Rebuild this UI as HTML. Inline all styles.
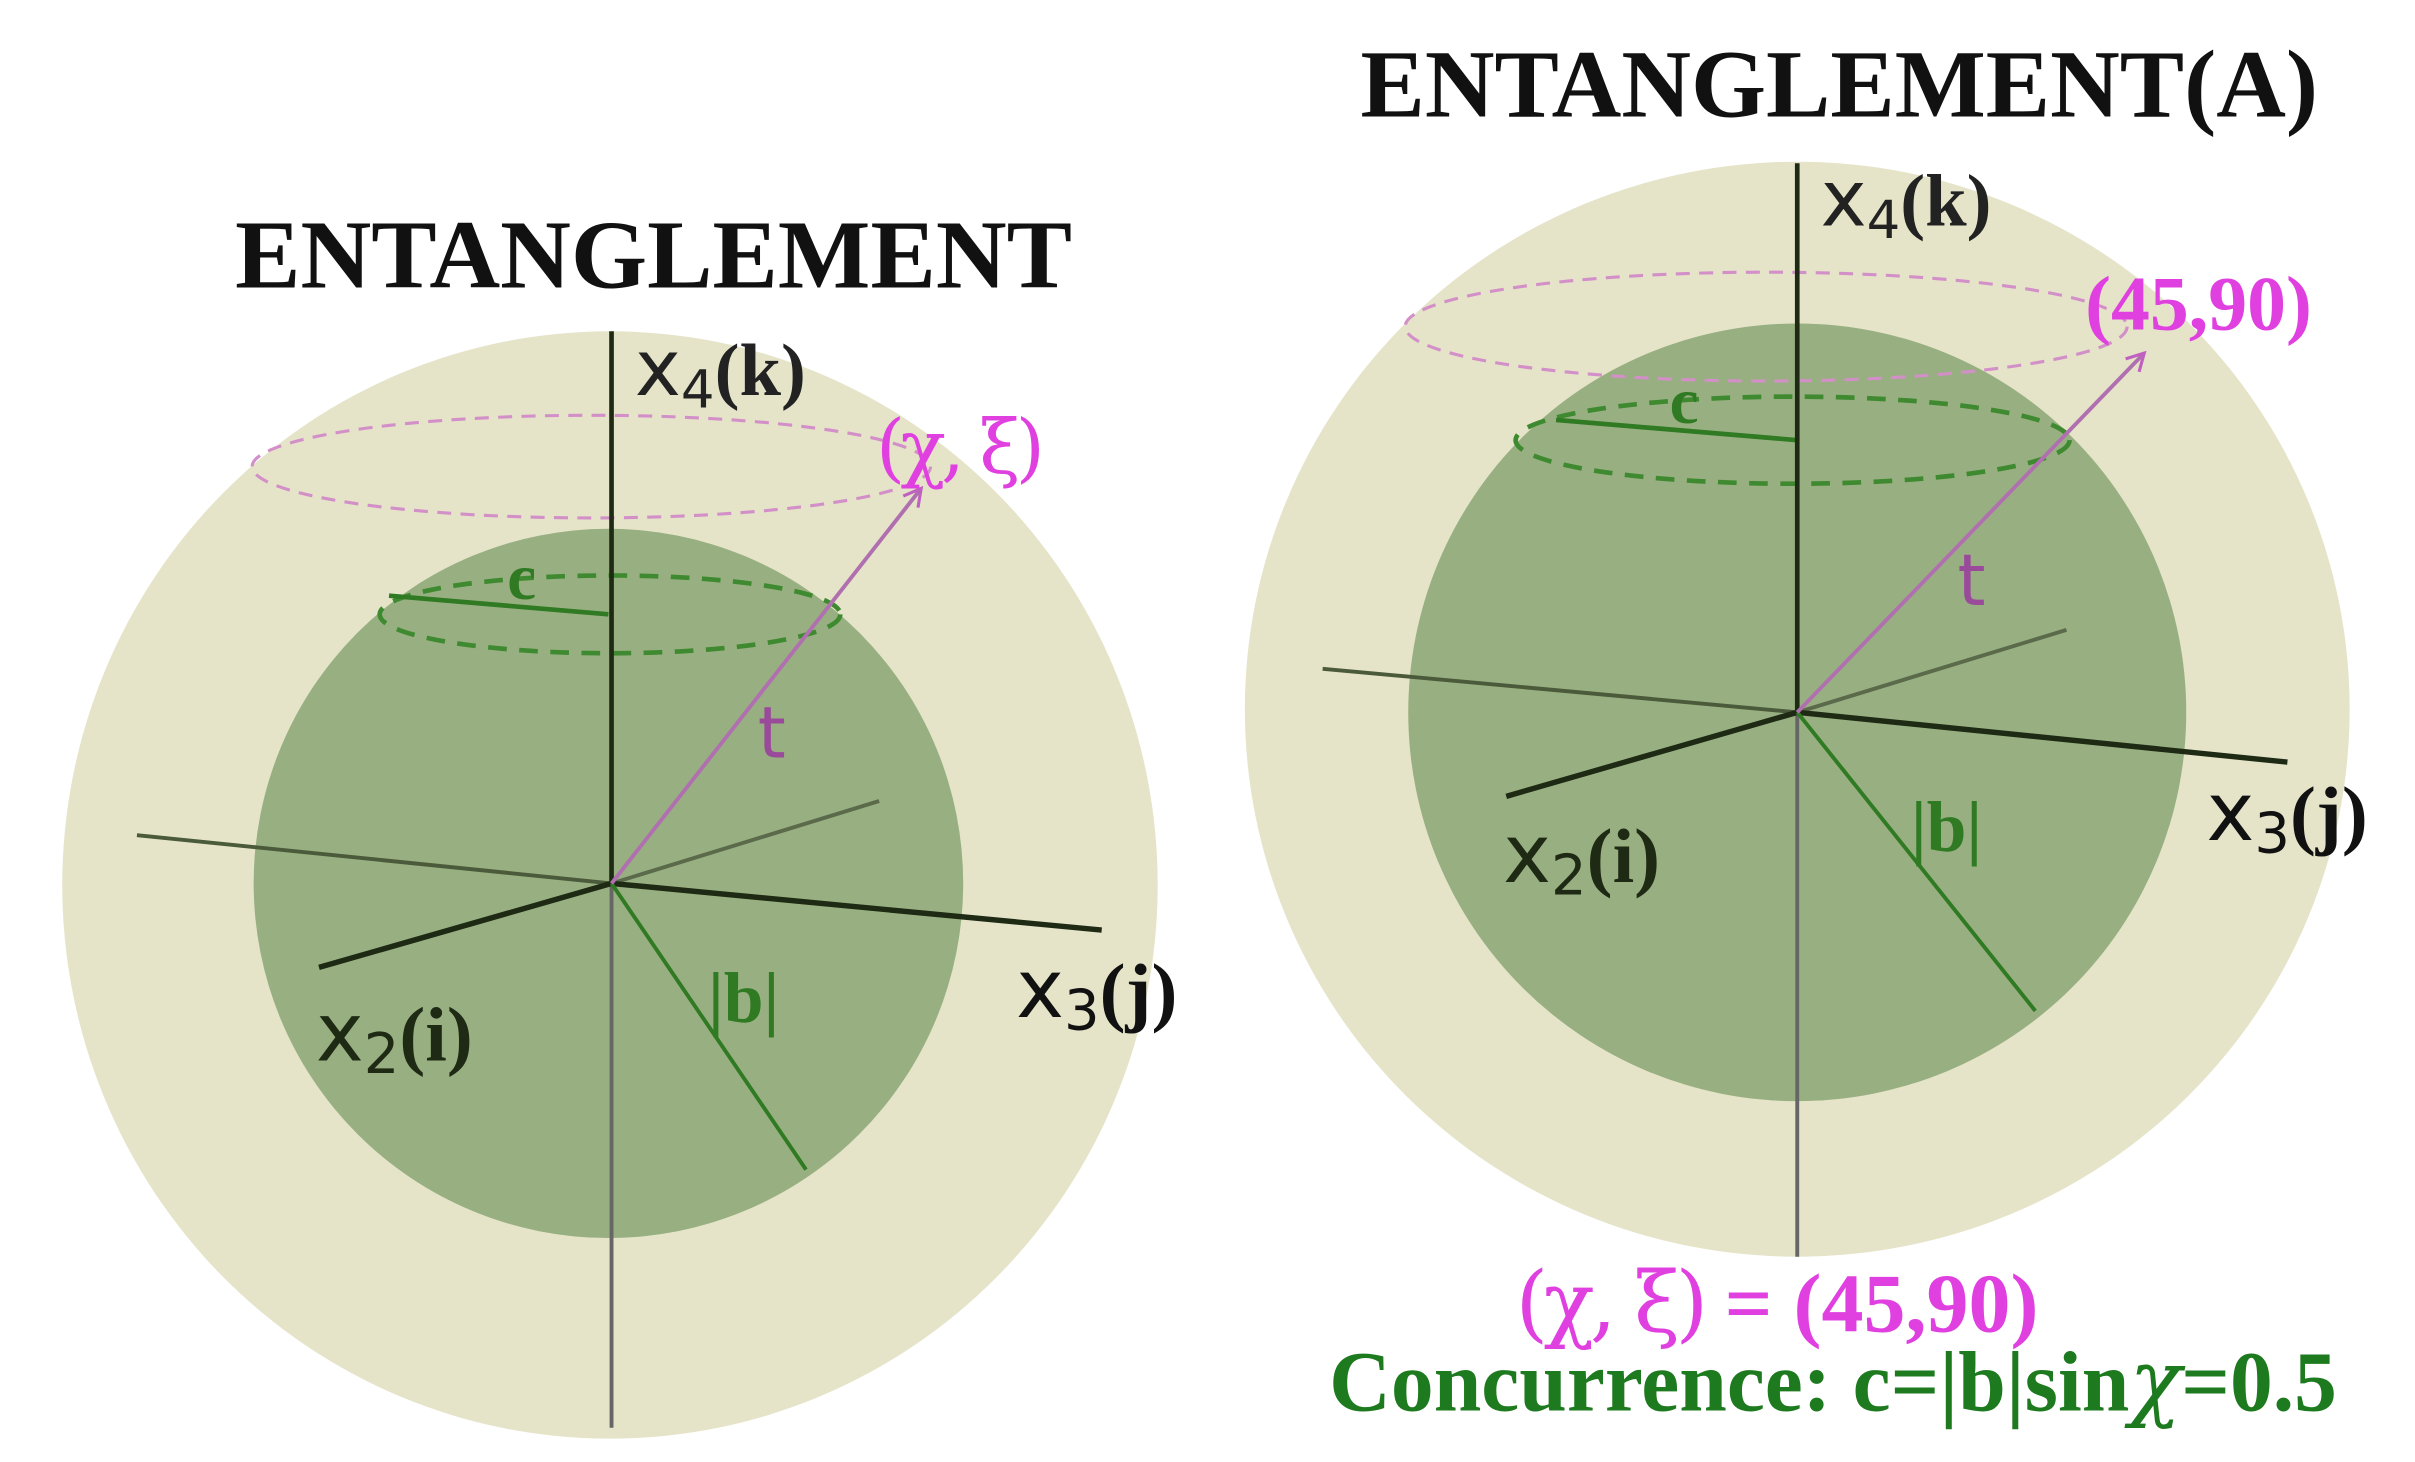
<!DOCTYPE html>
<html><head><meta charset="utf-8"><style>html,body{margin:0;padding:0;background:#fff}svg{display:block}</style></head>
<body>
<svg width="2415" height="1462" viewBox="0 0 1552 940" preserveAspectRatio="none" xmlns="http://www.w3.org/2000/svg">
<defs>
<marker id="ar" markerWidth="14" markerHeight="14" refX="12" refY="7" orient="auto" markerUnits="userSpaceOnUse">
<path d="M1,1 L12,7 L1,13" fill="none" stroke="#c060c0" stroke-width="2"/>
</marker>
</defs>
<rect width="1552" height="940" fill="#fff"/>
<!-- LEFT -->
<text x="420" y="185" text-anchor="middle" font-family="Liberation Serif" font-weight="bold" font-size="63" fill="#111">ENTANGLEMENT</text>
<ellipse cx="392" cy="569" rx="352" ry="356" fill="#e5e4c9"/>
<circle cx="391" cy="568" r="228" fill="#98b081"/>
<ellipse cx="380" cy="300" rx="218" ry="33" fill="none" stroke="#d38fc8" stroke-width="2" stroke-dasharray="9,6"/>
<ellipse cx="392" cy="395" rx="148" ry="25" fill="none" stroke="#3f8a30" stroke-width="3" stroke-dasharray="12,8"/>
<line x1="250" y1="383" x2="391" y2="395" stroke="#2f7a22" stroke-width="3"/>
<line x1="393" y1="213" x2="393" y2="568" stroke="#1e2a14" stroke-width="3"/>
<line x1="393" y1="568" x2="393" y2="918" stroke="#666" stroke-width="2.5"/>
<line x1="88" y1="537" x2="393" y2="568" stroke="#4a5a3a" stroke-width="2.5"/>
<line x1="393" y1="568" x2="565" y2="515" stroke="#5a6a4a" stroke-width="2.5"/>
<line x1="393" y1="568" x2="205" y2="622" stroke="#1e2a14" stroke-width="3.5"/>
<line x1="393" y1="568" x2="708" y2="598" stroke="#1e2a14" stroke-width="3.5"/>
<line x1="393" y1="568" x2="518" y2="752" stroke="#2f7a22" stroke-width="2.5"/>
<line x1="393" y1="568" x2="592" y2="314" stroke="#b070b0" stroke-width="2.5" marker-end="url(#ar)"/>
<text x="408" y="254" font-family="DejaVu Sans" font-size="50" fill="#222">x<tspan font-size="34" dy="8">4</tspan><tspan dy="-8" font-family="Liberation Serif" font-weight="bold" font-size="48">(k)</tspan></text>
<text x="563" y="304" font-family="DejaVu Serif" font-size="48" letter-spacing="-3" fill="#e040e0">(χ, ξ)</text>
<text x="326" y="385" font-family="Liberation Serif" font-weight="bold" font-size="42" fill="#2f7a22">c</text>
<text x="487" y="487" font-family="DejaVu Sans" font-size="46" fill="#9a4a9a">t</text>
<text x="455" y="657" font-family="Liberation Serif" font-weight="bold" font-size="46" fill="#2f7a22">|b|</text>
<text x="203" y="682" font-family="DejaVu Sans" font-size="52" fill="#1e2a14">x<tspan font-size="36" dy="8">2</tspan><tspan dy="-8" font-family="Liberation Serif" font-weight="bold" font-size="50">(i)</tspan></text>
<text x="653" y="654" font-family="DejaVu Sans" font-size="52" fill="#111">x<tspan font-size="36" dy="8">3</tspan><tspan dy="-8" font-family="Liberation Serif" font-weight="bold" font-size="50">(j)</tspan></text>
<!-- RIGHT -->
<text x="1182" y="75" text-anchor="middle" font-family="Liberation Serif" font-weight="bold" font-size="62" fill="#111">ENTANGLEMENT(A)</text>
<ellipse cx="1155" cy="456" rx="355" ry="352" fill="#e5e4c9"/>
<circle cx="1155" cy="458" r="250" fill="#98b081"/>
<ellipse cx="1135" cy="210" rx="232" ry="35" fill="none" stroke="#d38fc8" stroke-width="2" stroke-dasharray="9,6"/>
<ellipse cx="1152" cy="283" rx="178" ry="28" fill="none" stroke="#3f8a30" stroke-width="3" stroke-dasharray="12,8"/>
<line x1="1000" y1="270" x2="1155" y2="283" stroke="#2f7a22" stroke-width="3"/>
<line x1="1155" y1="105" x2="1155" y2="458" stroke="#1e2a14" stroke-width="3"/>
<line x1="1155" y1="458" x2="1155" y2="808" stroke="#666" stroke-width="2.5"/>
<line x1="850" y1="430" x2="1155" y2="458" stroke="#4a5a3a" stroke-width="2.5"/>
<line x1="1155" y1="458" x2="1328" y2="405" stroke="#5a6a4a" stroke-width="2.5"/>
<line x1="1155" y1="458" x2="968" y2="512" stroke="#1e2a14" stroke-width="3.5"/>
<line x1="1155" y1="458" x2="1470" y2="490" stroke="#1e2a14" stroke-width="3.5"/>
<line x1="1155" y1="458" x2="1308" y2="650" stroke="#2f7a22" stroke-width="2.5"/>
<line x1="1155" y1="458" x2="1378" y2="227" stroke="#b070b0" stroke-width="2.5" marker-end="url(#ar)"/>
<text x="1170" y="145" font-family="DejaVu Sans" font-size="50" fill="#222">x<tspan font-size="34" dy="8">4</tspan><tspan dy="-8" font-family="Liberation Serif" font-weight="bold" font-size="48">(k)</tspan></text>
<text x="1340" y="212" font-family="Liberation Serif" font-weight="bold" font-size="50" fill="#e040e0">(45,90)</text>
<text x="1073" y="272" font-family="Liberation Serif" font-weight="bold" font-size="42" fill="#2f7a22">c</text>
<text x="1258" y="389" font-family="DejaVu Sans" font-size="46" fill="#9a4a9a">t</text>
<text x="1228" y="547" font-family="Liberation Serif" font-weight="bold" font-size="46" fill="#2f7a22">|b|</text>
<text x="966" y="567" font-family="DejaVu Sans" font-size="52" fill="#1e2a14">x<tspan font-size="36" dy="8">2</tspan><tspan dy="-8" font-family="Liberation Serif" font-weight="bold" font-size="50">(i)</tspan></text>
<text x="1418" y="540" font-family="DejaVu Sans" font-size="52" fill="#111">x<tspan font-size="36" dy="8">3</tspan><tspan dy="-8" font-family="Liberation Serif" font-weight="bold" font-size="50">(j)</tspan></text>
<text x="1142" y="856" text-anchor="middle" font-family="Liberation Serif" font-weight="bold" font-size="54" fill="#e040e0"><tspan font-family="DejaVu Serif" font-weight="normal" letter-spacing="-3">(χ, ξ)</tspan> = (45,90)</text>
<text x="1178" y="907" text-anchor="middle" font-family="Liberation Serif" font-weight="bold" font-size="55" fill="#1e7a1e">Concurrence: c=|b|sin<tspan font-family="DejaVu Serif" font-style="italic" font-weight="normal">χ</tspan>=0.5</text>
</svg>
</body></html>
